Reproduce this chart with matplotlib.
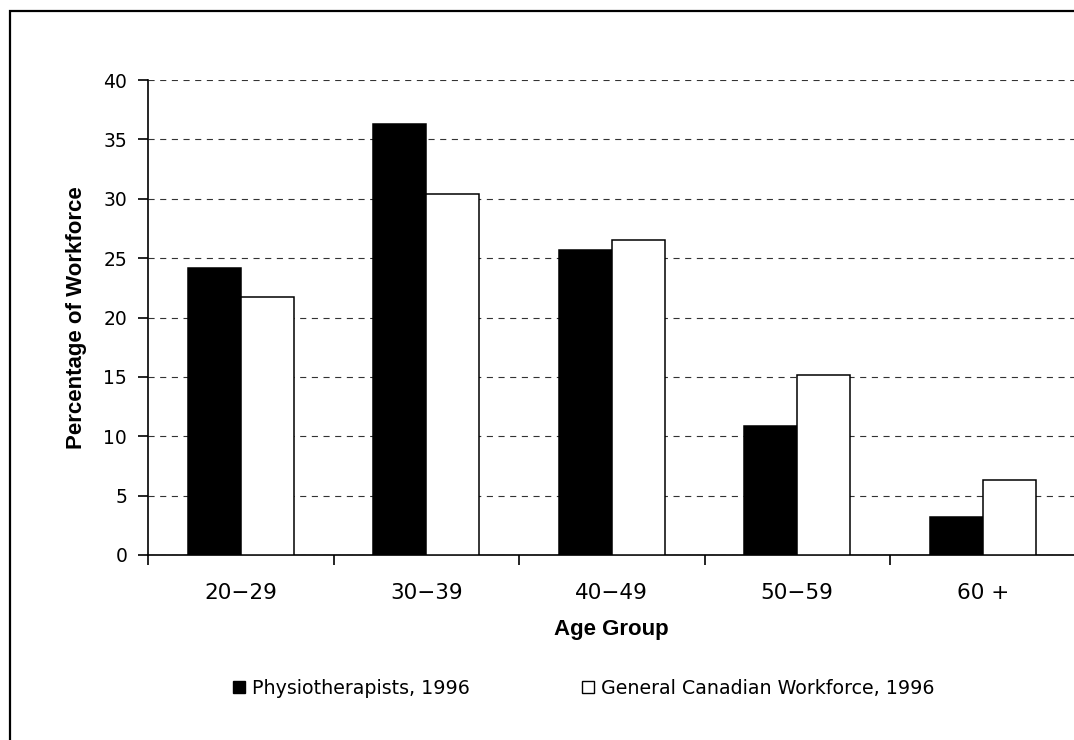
import numpy as np
import matplotlib
matplotlib.use("Agg")
import matplotlib.pyplot as plt
from matplotlib.patches import Rectangle, Patch

plt.rcParams["font.family"] = ["DejaVu Sans"]

groups = ["20\u221229", "30\u221239", "40\u221249", "50\u221259", "60 +"]
physio = [24.2, 36.3, 25.7, 10.9, 3.2]
general = [21.7, 30.4, 26.5, 15.2, 6.3]
series_names = ["Physiotherapists, 1996", "General Canadian Workforce, 1996"]

W, H = 1074, 740
fig = plt.figure(figsize=(W / 100, H / 100), dpi=100)

# outer frame (right and bottom edges fall outside the image)
fig.patches.append(Rectangle((10 / W, -0.1), 1.2, 1 - 11 / H + 0.1,
                             transform=fig.transFigure, fill=False,
                             edgecolor="black", linewidth=1.6))

ax = fig.add_axes([148 / W, 185 / H, 927.5 / W, 475 / H])

x = np.arange(len(groups))
w = 1 / 3.5
ax.bar(x - w / 2, physio, w, color="black", edgecolor="black", linewidth=1.1, zorder=3)
ax.bar(x + w / 2, general, w, color="white", edgecolor="black", linewidth=1.1, zorder=3)

ax.set_xlim(-0.5, len(groups) - 0.5)
ax.set_ylim(0, 40)
ax.set_yticks(range(0, 41, 5))
ax.yaxis.grid(True, color="#333333", linestyle=(0, (5.5, 5)), linewidth=0.8, zorder=0)
ax.set_axisbelow(True)

ax.set_xticks(x)
ax.set_xticklabels(groups, fontsize=15.5)
ax.tick_params(axis="x", length=0, pad=20)
ax.set_xticks(np.arange(-0.5, len(groups) + 0.5, 1), minor=True)
ax.tick_params(axis="x", which="minor", length=7, width=1.2, direction="out")
ax.tick_params(axis="y", length=7, width=1.2, direction="out", labelsize=13.5, pad=8)

for s in ["top", "right"]:
    ax.spines[s].set_visible(False)
ax.spines["left"].set_linewidth(1.2)
ax.spines["bottom"].set_linewidth(1.2)

lab_font = dict(fontsize=16, fontweight="bold", family=["Liberation Sans", "DejaVu Sans"])
ax.set_xlabel("Age Group", labelpad=12, **lab_font)
ax.set_ylabel("Percentage of Workforce", labelpad=12, **lab_font)

handles = [Patch(facecolor="black", edgecolor="black", linewidth=1),
           Patch(facecolor="white", edgecolor="black", linewidth=1)]
fig.legend(handles, series_names, loc="center", bbox_to_anchor=(584 / W, 1 - 688 / H),
           ncol=2, frameon=False, fontsize=13.7, handlelength=0.63, handleheight=0.63,
           handletextpad=0.37, columnspacing=5.9, borderpad=0)

fig.savefig("out.png", dpi=100)
